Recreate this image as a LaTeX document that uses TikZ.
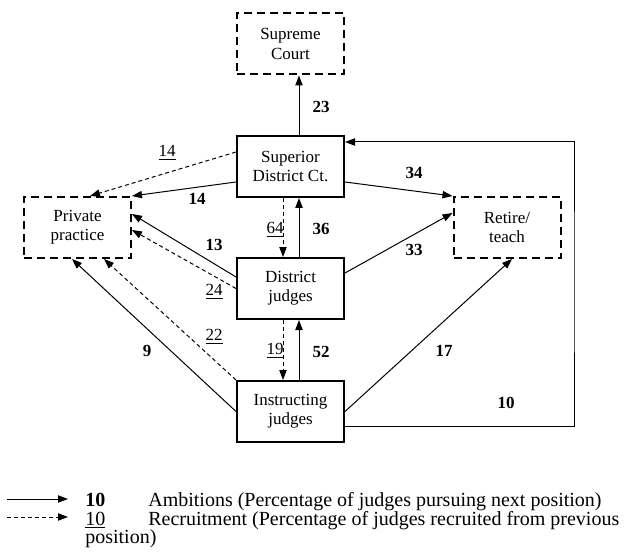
\documentclass[tikz,border=0pt]{standalone}
\usepackage{fontspec}
\setmainfont{Liberation Serif}
\usetikzlibrary{arrows.meta,calc}

\begin{document}
\begin{tikzpicture}[x=0.6pt,y=-0.6pt,
	box/.style={draw,line width=1.2pt,minimum width=64.2pt,minimum height=36.6pt,align=center,inner sep=1pt,font=\fontsize{10.2}{11.6}\selectfont},
	dbox/.style={box,dash pattern=on 4.8pt off 3pt},
	amb/.style={-{Triangle[length=6pt,width=4.4pt]},line width=0.6pt},
	rec/.style={amb,dash pattern=on 2.4pt off 1.8pt},
	num/.style={font=\fontsize{10.2}{12}\selectfont\bfseries,inner sep=0pt},
	unum/.style={font=\fontsize{10.2}{12}\selectfont,inner sep=0pt},
	key/.style={font=\fontsize{12}{14}\selectfont,inner sep=0pt,anchor=base west}]
	
	\useasboundingbox (0,0) rectangle (626,554);
	
	\node[dbox] (sup) at (290.5,44) {Supreme\\Court};
	\node[box] (sdc) at (290.5,166.5) {Superior\\District Ct.};
	\node[box] (dj) at (290.5,288.5) {District\\judges};
	\node[box] (ij) at (290.5,411.5) {Instructing\\judges};
	\node[dbox] (pp) at (77.5,227.5) {Private\\practice};
	\node[dbox] (rt) at (507,227.5) {Retire/\\teach};
	
	\draw[amb] ($(sdc.north)+(8.5,0)$) -- ($(sup.south)+(8.5,0)$);
	\draw[rec] ($(sdc.west)+(0,-14.5)$) -- ($(pp.north)+(12.5,0)$);
	\draw[amb] ($(sdc.west)+(0,15.5)$) -- (pp.north east);
	\draw[amb] ($(sdc.east)+(0,15.5)$) -- (rt.north west);
	\draw[rec] ($(sdc.south)+(-7.5,0)$) -- ($(dj.north)+(-7.5,0)$);
	\draw[amb] ($(dj.north)+(8.5,0)$) -- ($(sdc.south)+(8.5,0)$);
	\draw[amb] ($(dj.west)+(0,-11.5)$) -- ($(pp.east)+(0,-13.5)$);
	\draw[rec] (dj.west) -- ($(pp.east)+(0,2.5)$);
	\draw[amb] ($(dj.east)+(0,-15.5)$) -- ($(rt.west)+(0,-14.5)$);
	\draw[rec] ($(dj.south)+(-7.5,0)$) -- ($(ij.north)+(-7.5,0)$);
	\draw[amb] ($(ij.north)+(8.5,0)$) -- ($(dj.south)+(8.5,0)$);
	\draw[amb] (ij.west) -- ($(pp.south)+(-5.5,0)$);
	\draw[rec] (ij.north west) -- ($(pp.south)+(26.5,0)$);
	\draw[amb] (ij.east) -- ($(rt.south)+(5,0)$);
	\coordinate (loop) at (574,280);
	\draw[amb] ($(ij.east)+(0,14.5)$) -| (loop) |- ($(sdc.east)+(0,-24.5)$);
	
	\node[num] (l23) at (321,107) {23};
	\node[unum] (r14) at (167,153) {\underline{14}};
	\node[num] (l14) at (197,199) {14};
	\node[num] (l34) at (414,173) {34};
	\node[unum] (r64) at (275,230) {\underline{64}};
	\node[num] (l36) at (321,229) {36};
	\node[num] (l13) at (214,245) {13};
	\node[unum] (r24) at (214,292) {\underline{24}};
	\node[num] (l33) at (414,250) {33};
	\node[unum] (r22) at (214,337) {\underline{22}};
	\node[num] (l9) at (147,351) {9};
	\node[unum] (r19) at (275,351) {\underline{19}};
	\node[num] (l52) at (321,352) {52};
	\node[num] (l17) at (444,351) {17};
	\node[num] (l10) at (506,403) {10};
	
	\coordinate (a0) at (7,499);
	\coordinate (a1) at (68,499);
	\coordinate (b0) at (7,517);
	\coordinate (b1) at (68,517);
	\draw[amb] (a0) -- (a1);
	\draw[rec] (b0) -- (b1);
	\node[key,font=\fontsize{12}{14}\selectfont\bfseries] (k1) at (85,506) {10};
	\node[key] (t1) at (148,506) {Ambitions (Percentage of judges pursuing next position)};
	\node[key] (k2) at (85,525) {\underline{10}};
	\node[key] (t2) at (148,525) {Recruitment (Percentage of judges recruited from previous};
	\node[key] (t3) at (85,543) {position)};
\end{tikzpicture}
\end{document}
